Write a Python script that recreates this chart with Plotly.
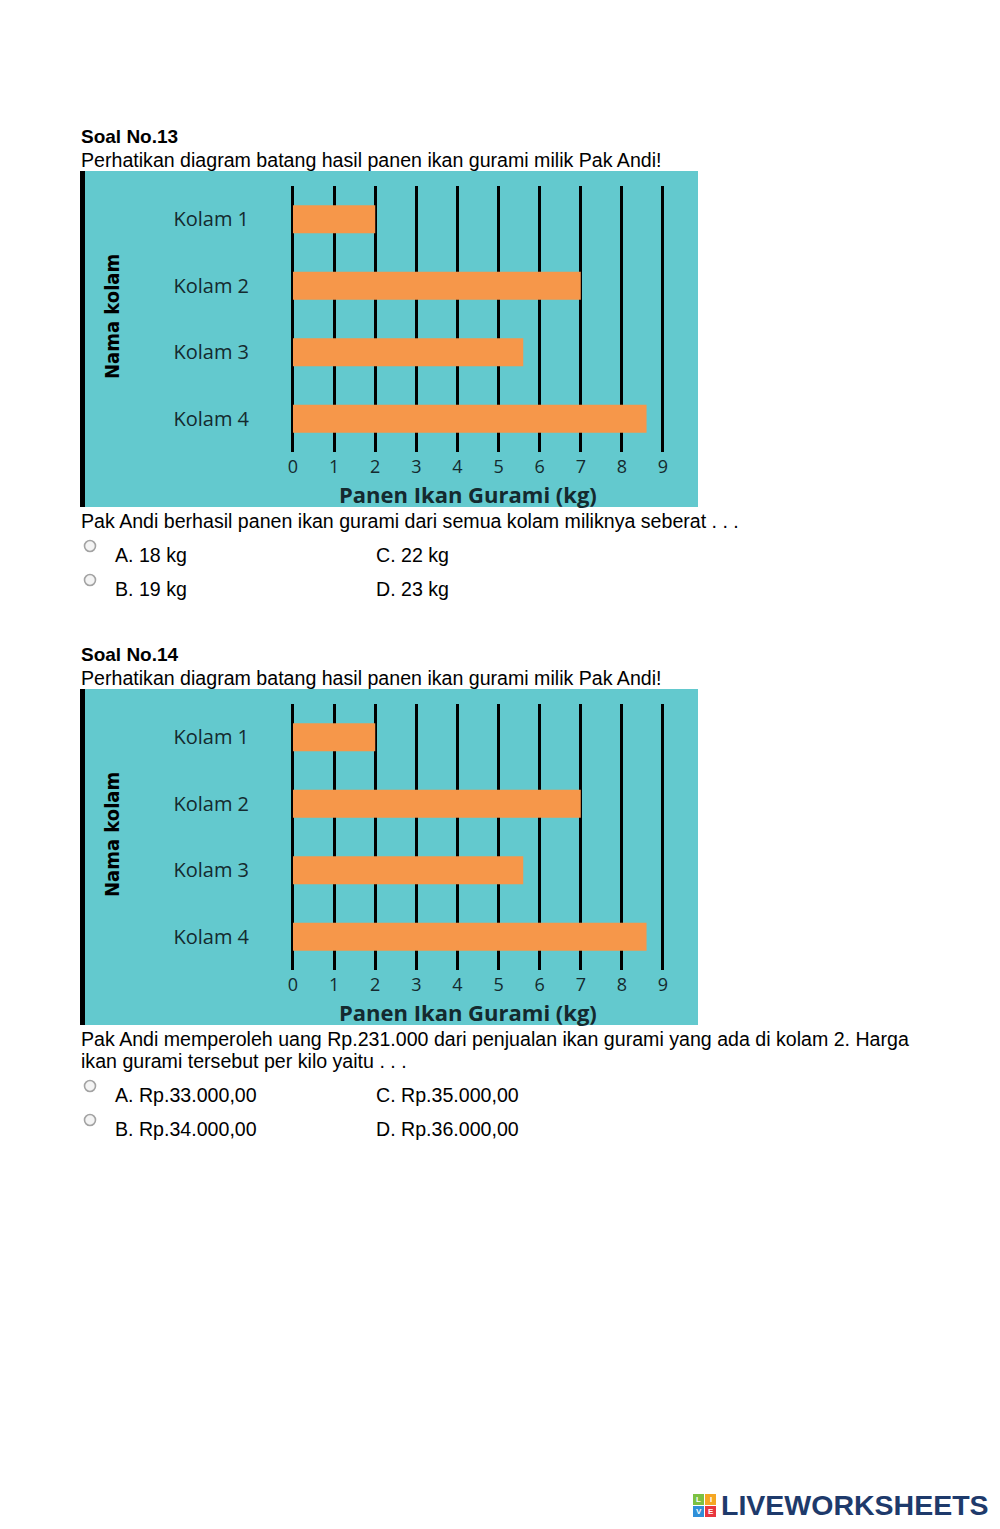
import plotly.graph_objects as go

# ---------------- data ----------------
categories = ["Kolam 1", "Kolam 2", "Kolam 3", "Kolam 4"]
panen_kg = [2, 7, 5.6, 8.6]
x_ticks = [0, 1, 2, 3, 4, 5, 6, 7, 8, 9]
x_title = "Panen Ikan Gurami (kg)"
y_title = "Nama kolam"

q13_title = "Soal No.13"
q13_intro = "Perhatikan diagram batang hasil panen ikan gurami milik Pak Andi!"
q13_question = ["Pak Andi berhasil panen ikan gurami dari semua kolam miliknya seberat . . ."]
q13_options = ["A. 18 kg", "B. 19 kg", "C. 22 kg", "D. 23 kg"]

q14_title = "Soal No.14"
q14_intro = "Perhatikan diagram batang hasil panen ikan gurami milik Pak Andi!"
q14_question = ["Pak Andi memperoleh uang Rp.231.000 dari penjualan ikan gurami yang ada di kolam 2. Harga",
                "ikan gurami tersebut per kilo yaitu . . ."]
q14_options = ["A. Rp.33.000,00", "B. Rp.34.000,00", "C. Rp.35.000,00", "D. Rp.36.000,00"]

# ---------------- layout helpers ----------------
W, H = 1000, 1529
def px(x):
    return x / W
def py(y):
    return 1 - y / H

CYAN = "#63c9ce"
ORANGE = "#f6974a"
DARK = "#142a2f"
PAGE_FONT = "Liberation Sans"
CHART_FONT = "Open Sans"
COND_FONT = "DejaVu Sans Condensed, Liberation Sans Narrow, Roboto, sans-serif"

fig = go.Figure()
shapes = []
annotations = []

def text(x, y, s, size=19.6, bold=False, color="black", family=PAGE_FONT, anchor="left", angle=0):
    if anchor == "left":
        x = x - 2
    annotations.append(dict(
        x=px(x), y=py(y), xref="paper", yref="paper", text=("<b>%s</b>" % s) if bold else s,
        showarrow=False, xanchor=anchor, yanchor="middle", textangle=angle,
        font=dict(size=size, color=color, family=family),
    ))

def radio(cx, cy):
    r = 5.5
    shapes.append(dict(type="circle", xref="paper", yref="paper",
                       x0=px(cx - r), x1=px(cx + r), y0=py(cy + r), y1=py(cy - r),
                       line=dict(color="#a3a3a3", width=1.6), fillcolor="#f4f4f4"))

def block(dy, idx, title, intro, question, options):
    xa = "x" if idx == 1 else "x%d" % idx
    ya = "y" if idx == 1 else "y%d" % idx
    # texts above chart
    text(81, 137 + dy, title, size=19, bold=True)
    text(81, 160 + dy, intro)
    # chart background + left black bar
    shapes.append(dict(type="rect", xref="paper", yref="paper", layer="below",
                       x0=px(80), x1=px(698), y0=py(507 + dy), y1=py(171 + dy),
                       fillcolor=CYAN, line=dict(width=0)))
    shapes.append(dict(type="rect", xref="paper", yref="paper", layer="below",
                       x0=px(80), x1=px(85), y0=py(507 + dy), y1=py(171 + dy),
                       fillcolor="black", line=dict(width=0)))
    # bars
    fig.add_trace(go.Bar(x=panen_kg, y=categories, orientation="h", width=0.42,
                         marker=dict(color=ORANGE, line=dict(width=0)),
                         xaxis=xa, yaxis=ya, showlegend=False, hoverinfo="skip"))
    # axis titles
    text(468, 494 + dy, x_title, size=22, bold=True, color=DARK, family=CHART_FONT, anchor="center")
    text(112, 317 + dy, y_title, size=20, bold=True, color="black",
         family=COND_FONT, anchor="center", angle=-90)
    # question text
    y = 521 + dy
    for line in question:
        text(81, y, line)
        y += 22
    oy1 = y + 12
    oy2 = oy1 + 34
    radio(90, oy1 - 9)
    radio(90, oy2 - 9)
    text(115, oy1, options[0])
    text(115, oy2, options[1])
    text(376, oy1, options[2])
    text(376, oy2, options[3])

block(0, 1, q13_title, q13_intro, q13_question, q13_options)
block(518, 2, q14_title, q14_intro, q14_question, q14_options)

# axes
unit = (663 - 293) / 9.0
x0_px = 293 - 0.12 * unit
x1_px = 663 + 0.12 * unit
def xaxis_cfg(anchor):
    return dict(domain=[px(x0_px), px(x1_px)], range=[-0.12, 9.12], anchor=anchor,
                tickvals=x_ticks, ticktext=[str(v) for v in x_ticks],
                showgrid=True, gridcolor="black", gridwidth=3, zeroline=False, showline=False,
                ticks="", ticklabelstandoff=2, tickfont=dict(size=18, color=DARK, family=CHART_FONT),
                fixedrange=True)
def yaxis_cfg(top, bottom, anchor):
    return dict(domain=[py(bottom), py(top)], type="category", categoryorder="array",
                categoryarray=categories, range=[3.5, -0.5], anchor=anchor,
                showgrid=False, zeroline=False, showline=False, ticks="",
                ticklabelstandoff=38, tickfont=dict(size=20, color=DARK, family=CHART_FONT),
                fixedrange=True)

# logo
logo_sq = [(693, 1494, "#7cc142", "L"), (705, 1494, "#f5a623", "I"),
           (693, 1506, "#2f8fd8", "V"), (705, 1506, "#e8363f", "E")]
for (lx, ly, col, ch) in logo_sq:
    shapes.append(dict(type="rect", xref="paper", yref="paper",
                       x0=px(lx), x1=px(lx + 11), y0=py(ly + 11), y1=py(ly),
                       fillcolor=col, line=dict(width=0)))
    text(lx + 5.5, ly + 5.8, ch, size=8, bold=True, color="white", anchor="center")
text(721, 1505, "LIVEWORKSHEETS", size=28.5, bold=True, color="#1e3a6b")

fig.update_layout(
    width=W, height=H, margin=dict(l=0, r=0, t=0, b=0),
    paper_bgcolor="white", plot_bgcolor="rgba(0,0,0,0)",
    xaxis=xaxis_cfg("y"), yaxis=yaxis_cfg(186, 452, "x"),
    xaxis2=xaxis_cfg("y2"), yaxis2=yaxis_cfg(186 + 518, 452 + 518, "x2"),
    shapes=shapes, annotations=annotations, bargap=0.5, showlegend=False,
)

fig.write_html("out.html", config={"displayModeBar": False},
               post_script="document.body.style.margin='0';document.body.style.overflow='hidden';")
